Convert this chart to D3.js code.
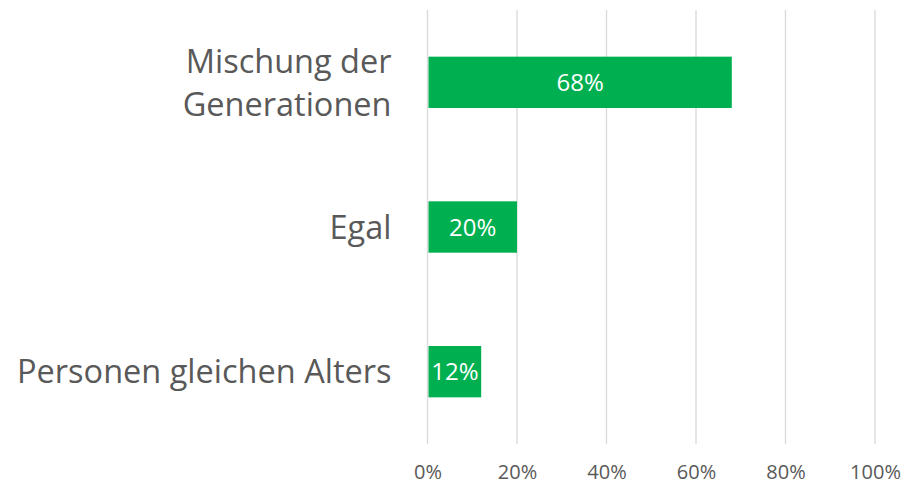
<!DOCTYPE html>
<html>
<head>
<meta charset="utf-8">
<script src="https://cdn.jsdelivr.net/npm/d3@7"></script>
<style>
  body { margin: 0; background: #fff; }
  svg { display: block; }
</style>
</head>
<body>
<svg id="chart" width="916" height="486"></svg>
<script>
// Answers and shares
const categories = [['Mischung der', 'Generationen'], ['Egal'], ['Personen gleichen Alters']];
const values = [0.68, 0.20, 0.12];
const tickValues = [0, 0.2, 0.4, 0.6, 0.8, 1.0];

(function() {
    const svg = d3.select('#chart');
    const margin = { top: 10, right: 41, bottom: 42, left: 427.5 };
    const width = 916, height = 486;
    const plotWidth = width - margin.left - margin.right;
    const plotHeight = height - margin.top - margin.bottom;
    const font = "'Open Sans', sans-serif";
    const textColor = '#595959';

    const g = svg.append('g')
        .attr('transform', `translate(${margin.left}, ${margin.top})`);

    const x = d3.scaleLinear().domain([0, 1]).range([0, plotWidth]);
    const y = d3.scaleBand()
        .domain(d3.range(categories.length))
        .range([0, plotHeight])
        .paddingInner(0.645)
        .paddingOuter(0.3225);

    // vertical grid lines
    g.append('g')
        .selectAll('line')
        .data(tickValues)
        .enter().append('line')
        .attr('x1', d => x(d)).attr('x2', d => x(d))
        .attr('y1', 0).attr('y2', plotHeight)
        .attr('stroke', '#d9d9d9')
        .attr('stroke-width', 1.3);

    // bars
    g.selectAll('.bar')
        .data(values)
        .enter().append('rect')
        .attr('class', 'bar')
        .attr('x', x(0) + 1)
        .attr('y', (d, i) => y(i))
        .attr('width', d => x(d) - 1)
        .attr('height', y.bandwidth())
        .attr('fill', '#00B050');

    // value labels
    g.selectAll('.val')
        .data(values)
        .enter().append('text')
        .attr('class', 'val')
        .attr('x', d => x(d) / 2 + 0.5)
        .attr('y', (d, i) => y(i) + y.bandwidth() / 2)
        .attr('dy', '0.36em')
        .attr('text-anchor', 'middle')
        .attr('font-family', font)
        .attr('font-size', '24px')
        .attr('fill', '#ffffff')
        .text(d => Math.round(d * 100) + '%');

    // category labels
    const catG = g.append('g');
    categories.forEach((lines, i) => {
        const cy = y(i) + y.bandwidth() / 2;
        const lh = 43;
        const t = catG.append('text')
            .attr('text-anchor', 'end')
            .attr('font-family', font)
            .attr('font-size', '32.5px')
            .attr('fill', textColor);
        lines.forEach((ln, j) => {
            t.append('tspan')
                .attr('x', -36)
                .attr('y', cy + (j - (lines.length - 1) / 2) * lh)
                .attr('dy', '0.36em')
                .text(ln);
        });
    });

    // x axis labels
    g.append('g')
        .attr('transform', `translate(0, ${plotHeight})`)
        .call(d3.axisBottom(x).tickValues(tickValues).tickSize(0).tickPadding(21)
            .tickFormat(d3.format('.0%')))
        .call(a => a.select('.domain').remove())
        .call(a => a.selectAll('text')
            .attr('font-family', font)
            .attr('font-size', '20px')
            .attr('fill', textColor));
})();
</script>
</body>
</html>
